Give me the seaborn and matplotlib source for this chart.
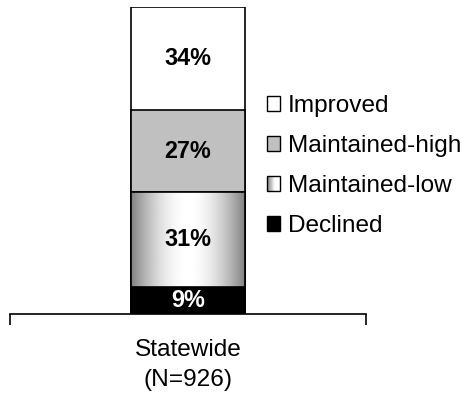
import numpy as np
import pandas as pd
import matplotlib
matplotlib.use("Agg")
import matplotlib.pyplot as plt
import seaborn as sns
from matplotlib.patches import Rectangle
from matplotlib.legend_handler import HandlerBase

# --- data -------------------------------------------------------------
categories = ["Statewide\n(N=926)"]
segments = ["Declined", "Maintained-low", "Maintained-high", "Improved"]
values = [9, 31, 27, 34]
label_colors = ["white", "black", "black", "black"]

sns.set_theme(style="white")
plt.rcParams["font.family"] = ["Liberation Sans", "DejaVu Sans"]
plt.rcParams["text.color"] = "black"
plt.rcParams["xtick.color"] = "black"
plt.rcParams["xtick.labelcolor"] = "black"

FS = 17.6        # legend / category text
FS_VAL = 16.8    # bold value labels
fill = {"Declined": "black", "Maintained-low": "white",
        "Maintained-high": "#c0c0c0", "Improved": "white"}

df = pd.DataFrame({"segment": segments, "value": values})
df["top"] = df["value"].cumsum()
df["bottom"] = df["top"] - df["value"]
df["category"] = categories[0]

fig = plt.figure(figsize=(4.64, 3.96), dpi=100)
ax = fig.add_axes([10 / 464, 82 / 396, 356 / 464, 307 / 396])

BAR_W = 0.32
patches = {}
# stacked bar: draw cumulative heights from the tallest down
for i, row in df.iloc[::-1].reset_index(drop=True).iterrows():
    n_before = len(ax.patches)
    sns.barplot(data=df[df.segment == row.segment], x="category", y="top",
                color=fill[row.segment], saturation=1, width=BAR_W,
                edgecolor="black", linewidth=1.2, ax=ax, zorder=2 + i * 2)
    patches[row.segment] = ax.patches[n_before]

# horizontal metallic gradient in the Maintained-low segment
t = np.linspace(0, 1, 200)
shade = 0.5 + 0.5 * np.sin(np.pi * t) ** 0.9
p_low = patches["Maintained-low"]
x0 = p_low.get_x()
x1 = x0 + p_low.get_width()
img = ax.imshow(shade[None, :], cmap="gray", vmin=0, vmax=1, aspect="auto",
                extent=[x0, x1, 0, df.loc[1, "top"]], zorder=p_low.get_zorder() + 0.5,
                interpolation="bilinear")
img.set_clip_path(p_low)
# redraw outline on top of the gradient
ax.add_patch(Rectangle((x0, 0), x1 - x0, df.loc[1, "top"], fill=False,
                       edgecolor="black", linewidth=1.2,
                       zorder=p_low.get_zorder() + 0.6))

# value labels
for _, row in df.iterrows():
    ax.text(0, (row.bottom + row.top) / 2, f"{row.value}%", ha="center",
            va="center", fontsize=FS_VAL, fontweight="bold",
            color=label_colors[_], zorder=20)

ax.set_xlim(-0.5, 0.5)
ax.set_ylim(0, df["top"].iloc[-1])
ax.set_ylabel("")
ax.set_xlabel("")
ax.set_yticks([])
for s in ["left", "right", "top"]:
    ax.spines[s].set_visible(False)
ax.spines["bottom"].set_color("black")
ax.spines["bottom"].set_linewidth(1.2)
ax.set_xticks([0], labels=categories)
ax.set_xticks([-0.5, 0.5], minor=True)
ax.tick_params(axis="x", which="major", length=0, pad=18, labelsize=FS,
               labelcolor="black")
ax.tick_params(axis="x", which="minor", length=8, width=1.2, color="black",
               direction="out", bottom=True)
for lbl in ax.get_xticklabels():
    lbl.set_linespacing(1.45)


class GradientHandler(HandlerBase):
    def create_artists(self, legend, orig_handle, xdescent, ydescent,
                       width, height, fontsize, trans):
        arts = []
        n = 20
        for k in range(n):
            g = 0.5 + 0.5 * min(1.0, (k + 0.5) / n * 1.6)
            arts.append(Rectangle((-xdescent + width * k / n, -ydescent),
                                  width / n + 0.01, height, facecolor=(g, g, g),
                                  edgecolor="none", transform=trans))
        arts.append(Rectangle((-xdescent, -ydescent), width, height, fill=False,
                              edgecolor="black", linewidth=1, transform=trans))
        return arts


legend_order = ["Improved", "Maintained-high", "Maintained-low", "Declined"]
handles = []
handler_map = {}
for seg in legend_order:
    h = Rectangle((0, 0), 1, 1, facecolor=fill[seg], edgecolor="black", linewidth=1)
    if seg == "Maintained-low":
        handler_map[h] = GradientHandler()
    handles.append(h)

leg = fig.legend(handles, legend_order, handler_map=handler_map, loc="upper left",
                 bbox_to_anchor=(267 / 464, 1 - 95 / 396), frameon=False,
                 fontsize=FS, handlelength=0.53, handleheight=0.53,
                 handletextpad=0.33, labelspacing=0.74, borderpad=0,
                 borderaxespad=0)
for txt in leg.get_texts():
    txt.set_color("black")

fig.savefig("out.png", dpi=100)
